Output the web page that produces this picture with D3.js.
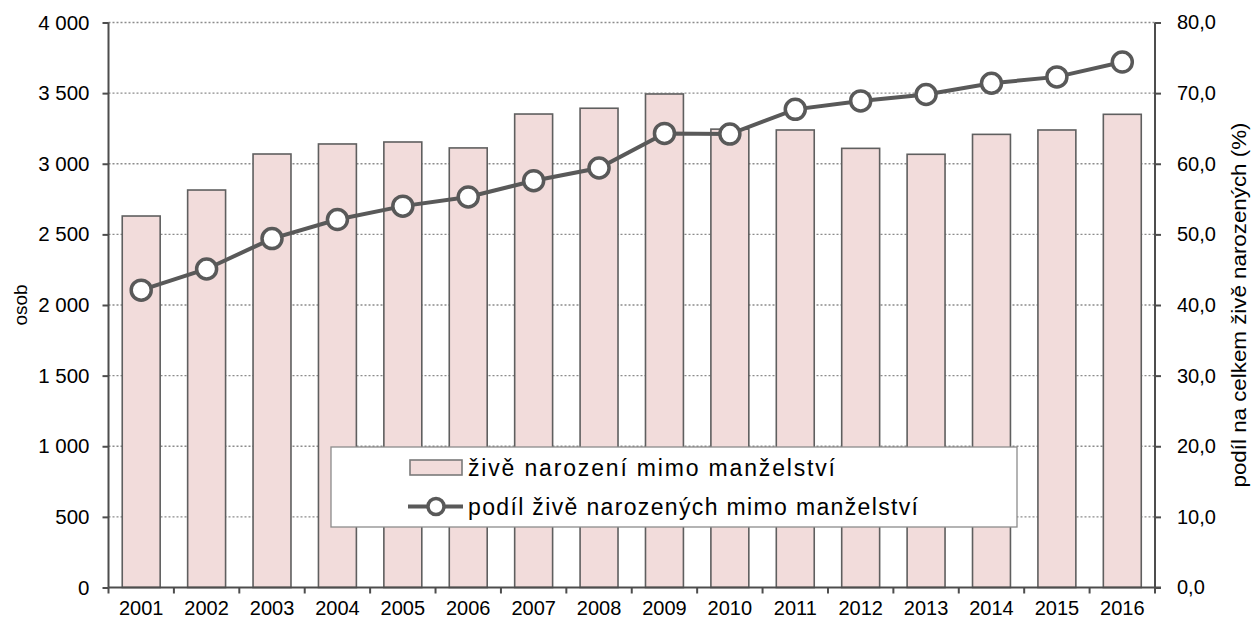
<!DOCTYPE html>
<html>
<head>
<meta charset="utf-8">
<style>
  body { margin: 0; background: #fff; }
  text { font-family: "Liberation Sans", Arial, sans-serif; }
</style>
</head>
<body>
<svg width="1256" height="625"></svg>
<script src="https://d3js.org/d3.v7.min.js"></script>
<script>

var years = ["2001","2002","2003","2004","2005","2006","2007","2008","2009","2010","2011","2012","2013","2014","2015","2016"];
var births = [2630, 2814, 3069, 3140, 3154, 3112, 3352, 3393, 3494, 3245, 3239, 3109, 3067, 3208, 3239, 3350];
var share = [42.1, 45.1, 49.4, 52.1, 54.0, 55.3, 57.6, 59.4, 64.3, 64.2, 67.7, 68.9, 69.8, 71.4, 72.3, 74.4];
var leftTicks = [0, 500, 1000, 1500, 2000, 2500, 3000, 3500, 4000];
var rightTicks = [0, 10, 20, 30, 40, 50, 60, 70, 80];

var svg = d3.select("svg"),
    plotL = 108.5, plotR = 1155, plotT = 22.5, plotB = 587.5;

var x = d3.scaleBand().domain(years).range([plotL, plotR]).padding(0),
    y = d3.scaleLinear().domain([0, 4000]).range([plotB, plotT]),
    y2 = d3.scaleLinear().domain([0, 80]).range([plotB, plotT]);

var fmtLeft = function(d) { return d >= 1000 ? Math.floor(d / 1000) + " " + d3.format("03d")(d % 1000) : d; };
var fmtRight = function(d) { return d3.format(".1f")(d).replace(".", ","); };

// gridlines
svg.append("g")
  .selectAll("line")
  .data(leftTicks.filter(function(d) { return d > 0; }))
  .enter().append("line")
    .attr("x1", plotL).attr("x2", plotR)
    .attr("y1", function(d) { return y(d); })
    .attr("y2", function(d) { return y(d); })
    .attr("stroke", "#8c8c8c")
    .attr("stroke-width", 1.3)
    .attr("stroke-dasharray", "2,2");

// bars
var bw = x.bandwidth() * 0.58;
svg.append("g")
  .selectAll("rect")
  .data(births)
  .enter().append("rect")
    .attr("x", function(d, i) { return x(years[i]) + (x.bandwidth() - bw) / 2; })
    .attr("y", function(d) { return y(d); })
    .attr("width", bw)
    .attr("height", function(d) { return plotB - y(d); })
    .attr("fill", "#f2dcdb")
    .attr("stroke", "#5f5f5f")
    .attr("stroke-width", 1.6);

// axes
var axisColor = "#4d4d4d";
var yAxis = svg.append("g")
    .attr("transform", "translate(" + plotL + ",0)")
    .call(d3.axisLeft(y).tickValues(leftTicks).tickSize(6).tickPadding(13).tickFormat(fmtLeft));
var y2Axis = svg.append("g")
    .attr("transform", "translate(" + plotR + ",0)")
    .call(d3.axisRight(y2).tickValues(rightTicks).tickSize(6).tickPadding(16).tickFormat(fmtRight));
var xAxis = svg.append("g")
    .attr("transform", "translate(0," + plotB + ")")
    .call(d3.axisBottom(x).tickSize(0).tickPadding(13));

[yAxis, y2Axis, xAxis].forEach(function(a) {
  a.select(".domain").attr("stroke", axisColor).attr("stroke-width", 2);
  a.selectAll(".tick line").attr("stroke", axisColor).attr("stroke-width", 2);
  a.selectAll("text").attr("font-size", 20).attr("fill", "#000")
    .attr("font-family", "'Liberation Sans', Arial, sans-serif");
});
yAxis.selectAll("text").attr("font-size", 20.5);
yAxis.select(".domain").attr("d", "M0," + plotT + "V" + plotB);
y2Axis.select(".domain").attr("d", "M0," + plotT + "V" + plotB);
xAxis.select(".domain").attr("d", "M" + plotL + ",0H" + (plotR + 6));

// category boundary ticks
xAxis.append("g")
  .selectAll("line")
  .data(years)
  .enter().append("line")
    .attr("x1", function(d) { return x(d); })
    .attr("x2", function(d) { return x(d); })
    .attr("y1", 0).attr("y2", 6)
    .attr("stroke", axisColor).attr("stroke-width", 2);
xAxis.append("line")
  .attr("x1", plotR).attr("x2", plotR).attr("y1", 0).attr("y2", 6)
  .attr("stroke", axisColor).attr("stroke-width", 2);

// line series
var line = d3.line()
  .x(function(d, i) { return x(years[i]) + x.bandwidth() / 2; })
  .y(function(d) { return y2(d); });

svg.append("path")
  .datum(share)
  .attr("d", line)
  .attr("fill", "none")
  .attr("stroke", "#595959")
  .attr("stroke-width", 4);

svg.append("g")
  .selectAll("circle")
  .data(share)
  .enter().append("circle")
    .attr("cx", function(d, i) { return x(years[i]) + x.bandwidth() / 2; })
    .attr("cy", function(d) { return y2(d); })
    .attr("r", 10)
    .attr("fill", "#fff")
    .attr("stroke", "#595959")
    .attr("stroke-width", 3.5);

// axis titles
svg.append("text")
  .attr("transform", "translate(27," + ((plotT + plotB) / 2) + ") rotate(-90)")
  .attr("text-anchor", "middle")
  .attr("font-size", 19)
  .text("osob");

svg.append("text")
  .attr("transform", "translate(1246," + ((plotT + plotB) / 2) + ") rotate(-90)")
  .attr("text-anchor", "middle")
  .attr("font-size", 19.5)
  .attr("textLength", 365)
  .attr("lengthAdjust", "spacingAndGlyphs")
  .text("podíl na celkem živě narozených (%)");

// legend
var legend = svg.append("g");
legend.append("rect")
  .attr("x", 331).attr("y", 447)
  .attr("width", 686).attr("height", 80)
  .attr("fill", "#fff")
  .attr("stroke", "#8c8c8c")
  .attr("stroke-width", 1.3);
legend.append("rect")
  .attr("x", 410).attr("y", 460)
  .attr("width", 52).attr("height", 15)
  .attr("fill", "#f2dcdb")
  .attr("stroke", "#7a7a7a")
  .attr("stroke-width", 1.6);
legend.append("line")
  .attr("x1", 408).attr("x2", 463).attr("y1", 506.5).attr("y2", 506.5)
  .attr("stroke", "#595959").attr("stroke-width", 4);
legend.append("circle")
  .attr("cx", 436).attr("cy", 506.5).attr("r", 8)
  .attr("fill", "#fff").attr("stroke", "#595959").attr("stroke-width", 3.5);
legend.append("text")
  .attr("x", 468).attr("y", 476)
  .attr("font-size", 23)
  .attr("font-family", "Lato, 'Open Sans', sans-serif")
  .attr("textLength", 367)
  .attr("lengthAdjust", "spacing")
  .text("živě narození mimo manželství");
legend.append("text")
  .attr("x", 468).attr("y", 515)
  .attr("font-size", 23)
  .attr("font-family", "Lato, 'Open Sans', sans-serif")
  .attr("textLength", 450)
  .attr("lengthAdjust", "spacing")
  .text("podíl živě narozených mimo manželství");

</script>
</body>
</html>
